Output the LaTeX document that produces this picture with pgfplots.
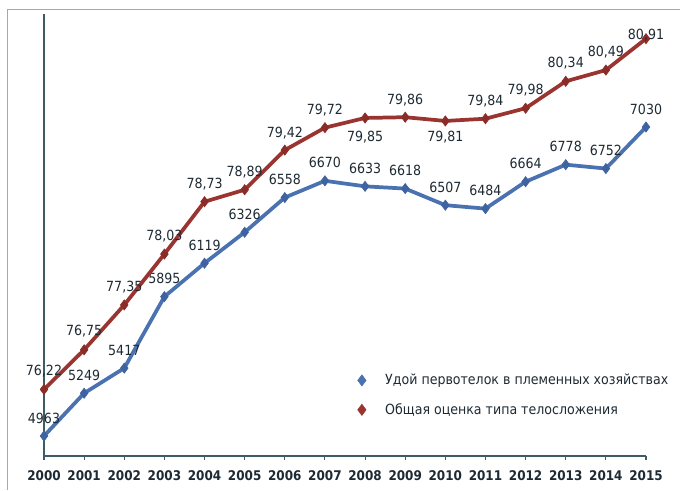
\documentclass[border=0pt]{standalone}
\usepackage{fontspec}
\setmainfont{DejaVu Sans}[FakeStretch=0.9]
\usepackage{pgfplots}
\usepackage{pgfplotstable}
\pgfplotsset{compat=1.18}
\definecolor{serA}{HTML}{4A72B0}
\definecolor{serAm}{HTML}{3F63A0}
\definecolor{serB}{HTML}{9A3430}
\definecolor{serBm}{HTML}{8A2C28}
\definecolor{axc}{HTML}{3F5B66}
\definecolor{lbl}{HTML}{1E2A33}
\definecolor{frm}{HTML}{A8A8A8}

\pgfplotstableread{
year val lbl dy
2000 4963 4963 13.5
2001 5249 5249 13.5
2002 5417 5417 13.5
2003 5895 5895 13.5
2004 6119 6119 13.5
2005 6326 6326 13.5
2006 6558 6558 13.5
2007 6670 6670 13.5
2008 6633 6633 13.5
2009 6618 6618 13.5
2010 6507 6507 13.5
2011 6484 6484 13.5
2012 6664 6664 13.5
2013 6778 6778 13.5
2014 6752 6752 13.5
2015 7030 7030 13.5
}\milk

\pgfplotstableread{
year val lbl dy
2000 76.22 76,22 13.5
2001 76.75 76,75 14
2002 77.35 77,35 13.5
2003 78.03 78,03 13.5
2004 78.73 78,73 13.5
2005 78.89 78,89 13
2006 79.42 79,42 12.5
2007 79.72 79,72 13
2008 79.85 79,85 -14
2009 79.86 79,86 12.5
2010 79.81 79,81 -12.5
2011 79.84 79,84 13.5
2012 79.98 79,98 13.5
2013 80.34 80,34 13.5
2014 80.49 80,49 13.5
2015 80.91 80,91 3
}\score

\begin{document}
\begin{tikzpicture}
\pgfplotsset{
  base/.style={
    at={(33pt,25.5pt)}, anchor=south west,
    scale only axis, width=451.5pt, height=331.5pt,
    xmin=2000, xmax=2015, clip=false,
    nodes near coords,
    point meta=explicit symbolic,
    visualization depends on={\thisrow{dy} \as \dy},
    every node near coord/.append style={
      anchor=center, yshift=\dy pt, text=lbl,
      font=\fontsize{10.5}{12}\selectfont, inner sep=0pt},
  }
}
\begin{axis}[base,
  ymin=4829, ymax=7786,
  axis x line*=bottom, axis y line*=left,
  axis line style={axc, line width=1.2pt},
  xtick={2000,2001,2002,2003,2004,2005,2006,2007,2008,2009,2010,2011,2012,2013,2014,2015},
  xticklabels={2000,2001,2002,2003,2004,2005,2006,2007,2008,2009,2010,2011,2012,2013,2014,2015},
  ytick=\empty,
  xtick align=outside, major tick length=3pt,
  tick style={axc, line width=0.8pt},
  x tick label style={font=\bfseries\fontsize{10}{11}\selectfont, text=lbl, yshift=-4.5pt},
  legend style={at={(0.514,0.198)}, anchor=north west, draw=none, fill=none,
    font=\fontsize{10.5}{12}\selectfont, text=lbl, row sep=8.5pt},
  legend cell align=left,
  legend image code/.code={\draw[#1] plot coordinates {(0cm,0cm)}; \node[draw=none, fill=none, inner sep=0pt, outer sep=0pt, minimum width=13pt, minimum height=1pt] at (2.5pt,0) {};},
]
\addplot[serA, line width=2.8pt, mark=diamond*, mark size=3.8pt,
  mark options={fill=serAm, draw=serAm, line width=0.5pt}, forget plot]
  table[x=year, y=val, meta=lbl] {\milk};
\addlegendimage{only marks, mark=diamond*, mark size=4.2pt, serA, fill=serA}
\addlegendentry{Удой первотелок в племенных хозяйствах}
\addlegendimage{only marks, mark=diamond*, mark size=4.2pt, serB, fill=serB}
\addlegendentry{Общая оценка типа телосложения}
\end{axis}
\begin{axis}[base,
  ymin=75.33, ymax=81.24,
  hide axis,
]
\addplot[serB, line width=2.8pt, mark=diamond*, mark size=3.8pt,
  mark options={fill=serBm, draw=serBm, line width=0.5pt}]
  table[x=year, y=val, meta=lbl] {\score};
\end{axis}
\draw[axc, line width=1.2pt] (33pt,25.5pt) -- (33pt,23pt);
\draw[frm, line width=0.9pt] (5.5pt,0) -- (5.5pt,360.3pt) -- (510pt,360.3pt);
\pgfresetboundingbox
\useasboundingbox (0,0) rectangle (510pt,367.5pt);
\end{tikzpicture}
\end{document}
